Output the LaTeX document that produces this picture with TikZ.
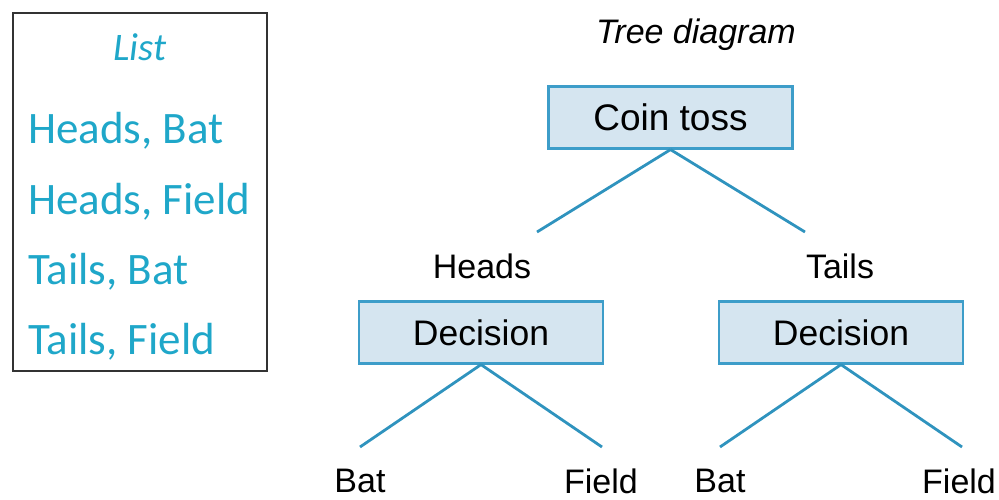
\documentclass[tikz,border=0pt]{standalone}
\usepackage{fontspec}
\setmainfont{Liberation Sans}
\newfontfamily\listfont{Carlito}
\definecolor{listcyan}{HTML}{1FA7C9}
\definecolor{branchblue}{HTML}{2F93BE}
\definecolor{boxfill}{HTML}{D5E5F0}
\definecolor{boxedge}{HTML}{3D9DC9}
\tikzset{
  x=1pt, y=-1pt,
  listitem/.style={anchor=west, inner sep=0pt, text=listcyan,
    font=\listfont\fontsize{45}{50}\selectfont},
  stagebox/.style={draw=boxedge, fill=boxfill, line width=2.2pt,
    minimum width=244pt, minimum height=62pt, inner sep=0pt,
    font=\fontsize{35.5}{40}\selectfont},
  leaf/.style={inner sep=0pt, font=\fontsize{34}{38}\selectfont},
  branch/.style={draw=branchblue, line width=2.8pt}
}
\begin{document}
\begin{tikzpicture}
\useasboundingbox (0,0) rectangle (999,500);

% list of outcomes
\draw[line width=2pt, draw=black!80] (13,13) rectangle (267,371);
\node[inner sep=0pt, text=listcyan, font=\listfont\itshape\fontsize{39}{44}\selectfont] (listtitle) at (140,47) {List};
\node[listitem] (l1) at (28,131) {Heads, Bat};
\node[listitem] (l2) at (28,202) {Heads, Field};
\node[listitem] (l3) at (28,272) {Tails, Bat};
\node[listitem] (l4) at (28,342) {Tails, Field};

% tree
\node[inner sep=0pt, font=\itshape\fontsize{34}{38}\selectfont] (title) at (696,35) {Tree diagram};
\node[stagebox, font=\fontsize{37}{42}\selectfont] (coin) at (670.5,117.5) {Coin toss};
\coordinate (hend) at (537,232);
\coordinate (tend) at (805,232);
\draw[branch] (coin.south) -- (hend);
\draw[branch] (coin.south) -- (tend);
\node[leaf] (heads) at (482,266) {Heads};
\node[leaf] (tails) at (840,266) {Tails};

\node[stagebox] (decL) at (481,332.5) {Decision};
\node[stagebox] (decR) at (841,332.5) {Decision};

\coordinate (lb) at (360,447);
\coordinate (lf) at (602,447);
\coordinate (rb) at (720,447);
\coordinate (rf) at (962,447);
\draw[branch] (decL.south) -- (lb);
\draw[branch] (decL.south) -- (lf);
\draw[branch] (decR.south) -- (rb);
\draw[branch] (decR.south) -- (rf);

\node[leaf] (batL) at (360,481) {Bat};
\node[leaf] (fieldL) at (601,481) {Field};
\node[leaf] (batR) at (720,481) {Bat};
\node[leaf, anchor=west] (fieldR) at (922,481) {Field};
\end{tikzpicture}
\end{document}
